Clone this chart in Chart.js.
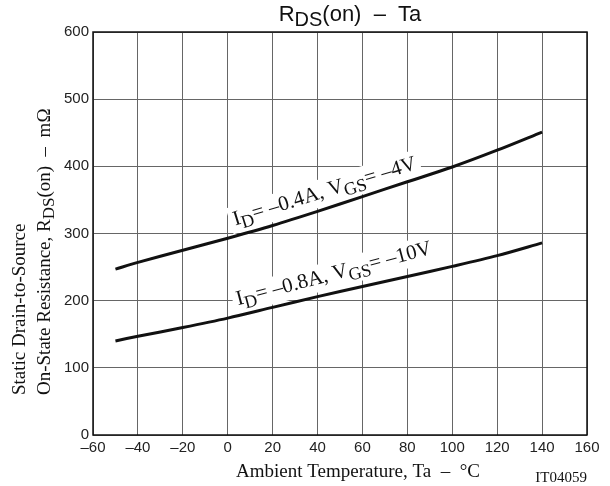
<!DOCTYPE html>
<html>
<head>
<meta charset="utf-8">
<script src="https://cdn.jsdelivr.net/npm/chart.js@4/dist/chart.umd.min.js"></script>
<style>
  body { margin: 0; background: #fff; }
  canvas { display: block; }
</style>
</head>
<body>
<canvas id="myChart" width="610" height="486"></canvas>
<script>
// ambient temperature, degC
const temps = [-50, -40, -20, 0, 20, 40, 60, 80, 100, 120, 140];
// RDS(on) in mOhm
const rdsLow = [247, 257, 275, 293, 312, 333, 355, 377, 399, 424, 451];   // ID=-0.4A, VGS=-4V
const rdsHigh = [140, 147, 160, 174, 190, 206, 221, 236, 251, 267, 286];  // ID=-0.8A, VGS=-10V

const xTicks = [-60, -40, -20, 0, 20, 40, 60, 80, 100, 120, 140, 160];
const yTicks = [0, 100, 200, 300, 400, 500, 600];

// baseline start / end of each curve label, in data units
const labelLowFrom = [3.3, 312];
const labelLowTo = [88.8, 401];
const labelHighFrom = [4.6, 193];
const labelHighTo = [96.8, 275];

const serif = '"Liberation Serif", "Times New Roman", serif';
const sans = '"Liberation Sans", Arial, sans-serif';
const dash = '\u2013';

function fmt(v){
  return v < 0 ? dash + Math.abs(v) : String(v);
}

function drawRich(c, parts, x, y){
  parts.forEach(p => {
    c.font = p.f;
    c.fillText(p.t, x, y + (p.dy || 0));
    x += c.measureText(p.t).width;
  });
  return x;
}
function richWidth(c, parts){
  let w = 0;
  parts.forEach(p => { c.font = p.f; w += c.measureText(p.t).width; });
  return w;
}

function curveLabel(chart, from, to, parts){
  const c = chart.ctx, sx = chart.scales.x, sy = chart.scales.y;
  const x0 = sx.getPixelForValue(from[0]), y0 = sy.getPixelForValue(from[1]);
  const x1 = sx.getPixelForValue(to[0]), y1 = sy.getPixelForValue(to[1]);
  const ang = Math.atan2(y1 - y0, x1 - x0);
  const w = richWidth(c, parts);
  c.save();
  c.translate(x0, y0);
  c.rotate(ang);
  c.fillStyle = '#fff';
  c.fillRect(-4, -19, w + 8, 27);
  c.fillStyle = '#111';
  c.textBaseline = 'alphabetic';
  c.textAlign = 'left';
  drawRich(c, parts, 0, 0);
  c.restore();
}

const labelsPlugin = {
  id: 'labels',
  beforeDatasetsDraw(chart){
    const c = chart.ctx, a = chart.chartArea;
    const big = '21px ' + serif, sub = '18px ' + serif;

    curveLabel(chart, labelLowFrom, labelLowTo, [
      {t: 'I', f: big}, {t: 'D', f: sub, dy: 5}, {t: '= ' + dash + '0.4A, V', f: big},
      {t: 'GS', f: sub, dy: 5}, {t: '= ' + dash + '4V', f: big}
    ]);
    curveLabel(chart, labelHighFrom, labelHighTo, [
      {t: 'I', f: big}, {t: 'D', f: sub, dy: 5}, {t: '= ' + dash + '0.8A, V', f: big},
      {t: 'GS', f: sub, dy: 5}, {t: '= ' + dash + '10V', f: big}
    ]);

    // plot frame
    c.save();
    c.strokeStyle = '#111';
    c.lineWidth = 1.5;
    c.strokeRect(a.left, a.top, a.right - a.left, a.bottom - a.top);
    c.restore();
  },
  afterDraw(chart){
    const c = chart.ctx, a = chart.chartArea;
    c.save();
    c.fillStyle = '#111';
    c.textBaseline = 'alphabetic';
    c.textAlign = 'left';

    // title
    const tParts = [
      {t: 'R', f: '22px ' + sans}, {t: 'DS', f: '20px ' + sans, dy: 5},
      {t: '(on)  ' + dash + '  Ta', f: '22px ' + sans}
    ];
    drawRich(c, tParts, 350 - richWidth(c, tParts) / 2, 21);

    // x axis title
    const xParts = [{t: 'Ambient Temperature, Ta  ' + dash + '  \u00b0C', f: '19px ' + serif}];
    drawRich(c, xParts, (a.left + a.right) / 2 + 18 - richWidth(c, xParts) / 2, 477);

    c.font = '15px ' + serif;
    c.textAlign = 'right';
    c.fillText('IT04059', a.right, 482);
    c.textAlign = 'left';

    // y axis title, two lines
    c.translate(0, a.bottom - 40);
    c.rotate(-Math.PI / 2);
    drawRich(c, [{t: 'Static Drain-to-Source', f: '19px ' + serif}], 0, 25);
    drawRich(c, [
      {t: 'On-State Resistance, R', f: '19px ' + serif},
      {t: 'DS', f: '17px ' + serif, dy: 4},
      {t: '(on)  ' + dash + '  m\u03a9', f: '19px ' + serif}
    ], 0, 50);
    c.restore();
  }
};

const tickFont = {family: sans, size: 15};

new Chart(document.getElementById('myChart'), {
  type: 'scatter',
  data: {
    datasets: [
      {
        label: 'ID=-0.4A, VGS=-4V',
        data: temps.map((t, i) => ({x: t, y: rdsLow[i]})),
        showLine: true, borderColor: '#111', borderWidth: 3,
        pointRadius: 0, tension: 0.3
      },
      {
        label: 'ID=-0.8A, VGS=-10V',
        data: temps.map((t, i) => ({x: t, y: rdsHigh[i]})),
        showLine: true, borderColor: '#111', borderWidth: 3,
        pointRadius: 0, tension: 0.3
      }
    ]
  },
  options: {
    responsive: false,
    animation: false,
    events: [],
    layout: {padding: {left: 0, right: 23, top: 32, bottom: 0}},
    plugins: {legend: {display: false}, tooltip: {enabled: false}},
    scales: {
      x: {
        type: 'linear', min: -60, max: 160,
        afterBuildTicks: s => { s.ticks = xTicks.map(v => ({value: v})); },
        afterFit: s => { s.height = 51; },
        ticks: {font: tickFont, color: '#222', padding: 4, maxRotation: 0, autoSkip: false, callback: v => fmt(v)},
        grid: {color: '#666', lineWidth: 1, drawTicks: false},
        border: {display: false}
      },
      y: {
        min: 0, max: 600,
        afterBuildTicks: s => { s.ticks = yTicks.map(v => ({value: v})); },
        afterFit: s => { s.width = 93; },
        ticks: {font: tickFont, color: '#222', padding: 4, callback: v => fmt(v)},
        grid: {color: '#666', lineWidth: 1, drawTicks: false},
        border: {display: false}
      }
    }
  },
  plugins: [labelsPlugin]
});
</script>
</body>
</html>
